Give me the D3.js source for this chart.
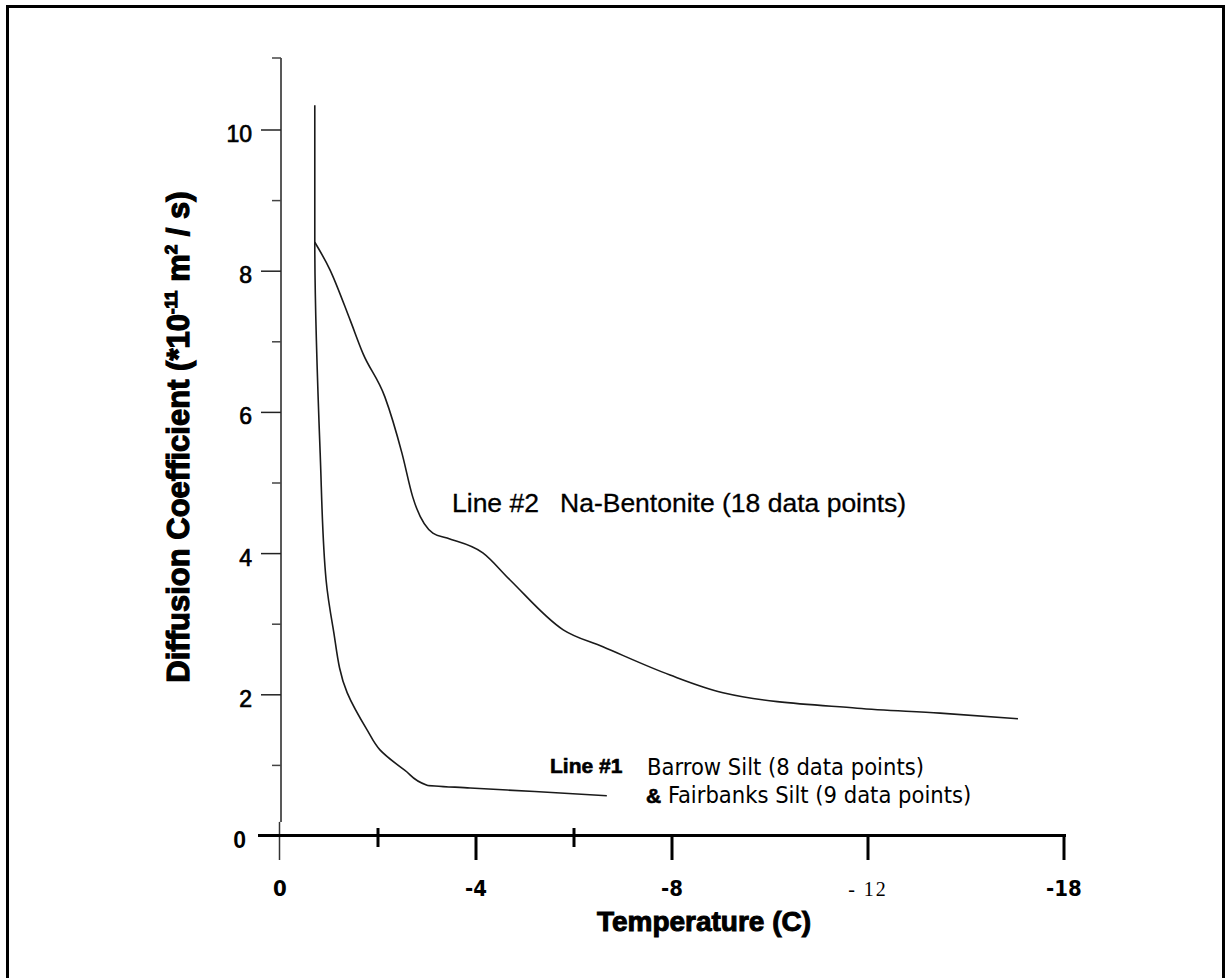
<!DOCTYPE html>
<html>
<head>
<meta charset="utf-8">
<script src="https://cdn.jsdelivr.net/npm/d3@7"></script>
<style>
  body { margin: 0; background: #fff; }
  svg { display: block; }
</style>
</head>
<body>
<svg width="1226" height="978"></svg>
<script>
// temperature (C) and diffusion coefficient (*10^-11 m2/s)
var line1Temp = [-0.71, -0.71, -0.82, -0.94, -1.08, -1.37, -1.78, -2.04, -2.55, -3.0, -3.88, -5.2, -6.67];
var line1Coef = [10.35, 8.41, 5.42, 3.63, 2.96, 2.03, 1.50, 1.22, 0.93, 0.72, 0.68, 0.63, 0.57];

var line2Temp = [-0.71, -1.02, -1.43, -1.69, -2.14, -2.49, -2.71, -3.12, -3.41, -4.14, -4.69, -5.78, -6.59, -7.96, -9.04, -11.78, -13.47, -15.06];
var line2Coef = [8.41, 8.02, 7.31, 6.84, 6.22, 5.42, 4.80, 4.29, 4.22, 4.01, 3.63, 2.92, 2.68, 2.28, 2.03, 1.81, 1.74, 1.66];

var yTicks = [0, 2, 4, 6, 8, 10];
var yMinorTicks = [1, 3, 5, 7, 9, 11];
var xLabelTicks = [0, -4, -8, -12, -16];
var xLabels = ["0", "-4", "-8", "- 12", "-18"];
var xCrossTicks = [-2, -6];

var svg = d3.select("svg");

// frame (open at the bottom)
svg.append("path")
  .attr("d", "M7.5,978 V6.5 H1223.5 V978")
  .attr("fill", "none")
  .attr("stroke", "#000")
  .attr("stroke-width", 3);

var x = d3.scaleLinear().domain([0, -16]).range([280, 1064]);
var y = d3.scaleLinear().domain([0, 10]).range([836, 130]);

// y axis
svg.append("line")
  .attr("x1", 281).attr("x2", 281)
  .attr("y1", 58).attr("y2", y(0.2))
  .attr("stroke", "#222").attr("stroke-width", 1.5);
svg.append("line")
  .attr("x1", 279.5).attr("x2", 279.5)
  .attr("y1", y(0.2)).attr("y2", 860)
  .attr("stroke", "#333").attr("stroke-width", 1.5);

svg.selectAll(".ymaj").data(yTicks.filter(function(d) { return d > 0; })).enter()
  .append("line")
  .attr("x1", 261).attr("x2", 281)
  .attr("y1", function(d) { return y(d); })
  .attr("y2", function(d) { return y(d); })
  .attr("stroke", "#222").attr("stroke-width", 1.5);

svg.selectAll(".ymin").data(yMinorTicks).enter()
  .append("line")
  .attr("x1", 272).attr("x2", 281)
  .attr("y1", function(d) { return d === 11 ? 58 : y(d); })
  .attr("y2", function(d) { return d === 11 ? 58 : y(d); })
  .attr("stroke", "#444").attr("stroke-width", 1.5);

svg.selectAll(".ylab").data(yTicks).enter()
  .append("text")
  .attr("x", function(d) { return d === 0 ? 246 : 252; })
  .attr("y", function(d) { return y(d) + 12; })
  .attr("text-anchor", "end")
  .attr("font-family", "Liberation Sans, Arial, sans-serif")
  .attr("font-size", 23)
  .attr("font-weight", function(d) { return d === 0 ? "bold" : "normal"; })
  .attr("stroke", "#000").attr("stroke-width", function(d) { return d === 0 ? 0 : 0.7; })
  .text(function(d) { return d; });

// x axis
svg.append("line")
  .attr("x1", 258).attr("x2", 1066)
  .attr("y1", 835.5).attr("y2", 835.5)
  .attr("stroke", "#000").attr("stroke-width", 3);

svg.selectAll(".xdown").data(xLabelTicks.filter(function(d) { return d !== 0; })).enter()
  .append("line")
  .attr("x1", function(d) { return x(d); })
  .attr("x2", function(d) { return x(d); })
  .attr("y1", 835).attr("y2", 860)
  .attr("stroke", "#000").attr("stroke-width", 3);

svg.selectAll(".xcross").data(xCrossTicks).enter()
  .append("line")
  .attr("x1", function(d) { return x(d); })
  .attr("x2", function(d) { return x(d); })
  .attr("y1", 828).attr("y2", 847)
  .attr("stroke", "#000").attr("stroke-width", 3);

svg.selectAll(".xlab").data(xLabelTicks).enter()
  .append("text")
  .attr("x", function(d) { return x(d); })
  .attr("y", 896)
  .attr("text-anchor", "middle")
  .attr("font-family", function(d, i) { return i === 3 ? "Liberation Serif, Times, serif" : "Liberation Sans Narrow, DejaVu Sans Condensed, sans-serif"; })
  .attr("font-size", function(d, i) { return i === 3 ? 20 : 22; })
  .attr("font-weight", function(d, i) { return i === 3 ? "normal" : "bold"; })
  .attr("letter-spacing", function(d, i) { return i === 3 ? 2 : 0; })
  .text(function(d, i) { return xLabels[i]; });

// axis titles
svg.append("text")
  .attr("x", 704).attr("y", 931)
  .attr("text-anchor", "middle")
  .attr("font-family", "Liberation Sans, Arial, sans-serif")
  .attr("font-size", 28)
  .attr("font-weight", "bold")
  .attr("stroke", "#000").attr("stroke-width", 1)
  .text("Temperature (C)");

var yt = svg.append("text")
  .attr("transform", "translate(189,437) rotate(-90)")
  .attr("text-anchor", "middle")
  .attr("font-family", "Liberation Sans, Arial, sans-serif")
  .attr("font-size", 31)
  .attr("font-weight", "bold")
  .attr("stroke", "#000").attr("stroke-width", 1.2);
yt.append("tspan").text("Diffusion Coefficient (*10");
yt.append("tspan").attr("font-size", 17).attr("dy", -12).text("-11");
yt.append("tspan").attr("dy", 12).text(" m");
yt.append("tspan").attr("font-size", 17).attr("dy", -12).text("2");
yt.append("tspan").attr("dy", 12).text(" / s)");

// curves: line 1 falls steadily down the page, line 2 runs steadily right
var line1 = d3.line()
  .x(function(d) { return x(d[0]); })
  .y(function(d) { return y(d[1]); })
  .curve(d3.curveMonotoneY);
var line2 = d3.line()
  .x(function(d) { return x(d[0]); })
  .y(function(d) { return y(d[1]); })
  .curve(d3.curveMonotoneX);

svg.append("path")
  .datum(d3.zip(line1Temp, line1Coef))
  .attr("d", line1)
  .attr("fill", "none")
  .attr("stroke", "#1a1a1a")
  .attr("stroke-width", 1.6);

svg.append("path")
  .datum(d3.zip(line2Temp, line2Coef))
  .attr("d", line2)
  .attr("fill", "none")
  .attr("stroke", "#1a1a1a")
  .attr("stroke-width", 1.6);

// annotations
var t2 = svg.append("text")
  .attr("x", 452).attr("y", 512)
  .attr("font-family", "Liberation Sans, Arial, sans-serif")
  .attr("font-size", 26.5)
  .attr("stroke", "#000").attr("stroke-width", 0.3)
  .attr("fill", "#000");
t2.append("tspan").text("Line #2");
t2.append("tspan").attr("x", 560).text("Na-Bentonite (18 data points)");

svg.append("text")
  .attr("x", 550).attr("y", 773)
  .attr("font-family", "Liberation Sans, Arial, sans-serif")
  .attr("font-size", 21)
  .attr("font-weight", "bold")
  .attr("stroke", "#000").attr("stroke-width", 0.6)
  .text("Line #1");

svg.append("text")
  .attr("x", 647).attr("y", 775)
  .attr("font-family", "Liberation Sans Narrow, DejaVu Sans Condensed, sans-serif")
  .attr("font-size", 23.5)
  .text("Barrow Silt (8 data points)");

var t1b = svg.append("text")
  .attr("x", 646).attr("y", 803)
  .attr("font-family", "Liberation Sans Narrow, DejaVu Sans Condensed, sans-serif")
  .attr("font-size", 23.5);
t1b.append("tspan").attr("font-weight", "bold").attr("font-family", "Liberation Sans, Arial, sans-serif")
  .attr("stroke", "#000").attr("stroke-width", 0.6).attr("font-size", 21).text("&");
t1b.append("tspan").text(" Fairbanks Silt (9 data points)");
</script>
</body>
</html>
